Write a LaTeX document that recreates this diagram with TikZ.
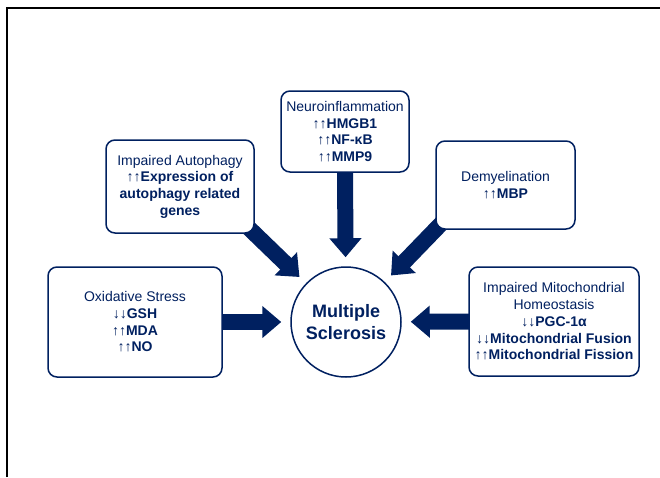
\documentclass[tikz,border=0pt]{standalone}
\usepackage{fontspec}
\setmainfont{Liberation Sans}
\usepackage{xcolor}
\usetikzlibrary{arrows.meta,backgrounds}
\definecolor{navy}{RGB}{0,32,96}
\newcommand{\incr}{{\mdseries ↑↑}}
\newcommand{\decr}{{\mdseries ↓↓}}

\begin{document}
\begin{tikzpicture}[x=1pt, y=-1pt,
  box/.style={draw=navy, line width=1.5pt, rounded corners=9pt, fill=white, text=navy, align=center, inner sep=3pt, font=\fontsize{14}{16.7}\selectfont},
  msc/.style={draw=navy, line width=1.5pt, circle, fill=white, text=navy, align=center, minimum size=110pt, inner sep=0pt, font=\bfseries\fontsize{18}{22}\selectfont},
  arr/.style={navy, line width=16pt, -{Triangle[length=19pt, width=31pt]}, shorten <=-12pt, shorten >=9pt}]
\useasboundingbox (0,0) rectangle (660,477);
\draw[line width=2pt] (7,477) -- (7,8) -- (660,8);
\node[msc] (ms) at (346,322) {Multiple\\Sclerosis};
\node[box, minimum width=128pt, minimum height=81pt] (neuro) at (345,131.5) {Neuroinflammation\\ \bfseries\incr HMGB1\\ \bfseries\incr NF-κB\\ \bfseries\incr MMP9};
\node[box, minimum width=148pt, minimum height=93pt] (auto) at (180,186.5) {Impaired Autophagy\\ \bfseries\incr Expression of\\ \bfseries autophagy related\\ \bfseries genes};
\node[box, minimum width=139pt, minimum height=88pt] (demy) at (505.5,185) {Demyelination\\ \bfseries\incr MBP};
\node[box, minimum width=174pt, minimum height=110pt] (oxid) at (135,322) {Oxidative Stress\\ \bfseries\decr GSH\\ \bfseries\incr MDA\\ \bfseries\incr NO};
\node[box, minimum width=170pt, minimum height=109pt] (mito) at (554,321.5) {Impaired Mitochondrial\\ Homeostasis\\ \bfseries\decr PGC-1α\\ \bfseries\decr Mitochondrial Fusion\\ \bfseries\incr Mitochondrial Fission};
\begin{scope}[on background layer]
\foreach \n/\a in {oxid/east, auto/south east, neuro/south, demy/south west, mito/west}{\draw[arr] (\n.\a) -- (ms);}
\end{scope}
\end{tikzpicture}
\end{document}
